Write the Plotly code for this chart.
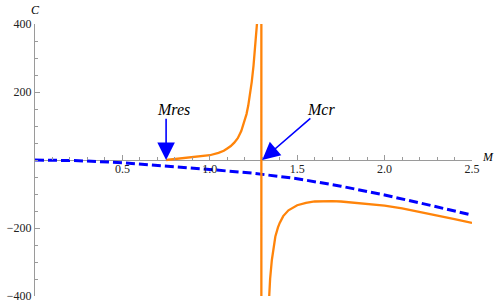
import plotly.graph_objects as go

# ---- data ----
blue_M = [0.0, 0.25, 0.5, 0.75, 1.0, 1.25, 1.5, 1.75, 2.0, 2.25, 2.5]
blue_C = [0, -2, -8, -17, -28, -39, -55, -77, -103, -132, -162]

orange_M = [0.75, 0.80, 0.85, 0.90, 0.95, 1.00, 1.05, 1.08, 1.10, 1.12, 1.14, 1.16,
            1.18, 1.20, 1.21, 1.22, 1.23, 1.24, 1.25, 1.26, 1.27, 1.28,
            1.29, 1.2945, 1.2955, 1.30, 1.32,
            1.34, 1.345, 1.355, 1.365, 1.375, 1.39, 1.40, 1.42, 1.45, 1.50, 1.55,
            1.60, 1.65, 1.70, 1.75, 1.80, 1.85, 1.92, 2.00, 2.10, 2.20, 2.30, 2.40, 2.50]
orange_C = [0, 3, 5, 8, 11, 14, 21, 27, 34, 41, 51, 64,
            85, 116, 135, 160, 192, 230, 277, 335, 402, 520,
            1500, 20000, -20000, -3000, -800,
            -400, -350, -294, -255, -225, -198, -185, -165, -148, -133, -126,
            -122, -121, -121, -122, -124, -126, -129, -134, -142, -152, -163, -174, -185]

x_tickvals = [0.5, 1.0, 1.5, 2.0, 2.5]
x_ticktext = ["0.5", "1.0", "1.5", "2.0", "2.5"]
y_tickvals = [-400, -200, 200, 400]
y_ticktext = ["\u2212400", "\u2212200", "200", "400"]

M_res = 0.75
M_cr = 1.30

FONT = "Liberation Serif, serif"
AXIS_GRAY = "#9a9a9a"
ORANGE = "rgb(255,132,10)"
BLUE = "rgb(0,0,255)"

fig = go.Figure()
fig.add_trace(go.Scatter(x=blue_M, y=blue_C, mode="lines",
                         line=dict(color=BLUE, width=3, dash="9px,4px"),
                         hoverinfo="skip", showlegend=False))
fig.add_trace(go.Scatter(x=orange_M, y=orange_C, mode="lines",
                         line=dict(color=ORANGE, width=2.3),
                         hoverinfo="skip", showlegend=False))

annotations = [
    dict(x=M_res, y=0, ax=M_res, ay=126, xref="x", yref="y", axref="x", ayref="y",
         text="", showarrow=True, arrowhead=2, arrowsize=2.2, arrowwidth=1.6,
         arrowcolor=BLUE, standoff=0),
    dict(x=M_cr, y=0, ax=1.584, ay=126, xref="x", yref="y", axref="x", ayref="y",
         text="", showarrow=True, arrowhead=2, arrowsize=2.2, arrowwidth=1.6,
         arrowcolor=BLUE, standoff=0),
    dict(x=0.79, y=150, xref="x", yref="y", text="<i>Mres</i>", showarrow=False,
         font=dict(family=FONT, size=16, color="black")),
    dict(x=1.637, y=148, xref="x", yref="y", text="<i>Mcr</i>", showarrow=False,
         font=dict(family=FONT, size=16, color="black")),
    dict(x=0, y=1.05, xref="paper", yref="paper", xanchor="center", yanchor="middle",
         text="<i>C</i>", showarrow=False,
         font=dict(family=FONT, size=12, color="black")),
    dict(x=1.037, y=9, xref="paper", yref="y", xanchor="center", yanchor="middle",
         text="<i>M</i>", showarrow=False,
         font=dict(family=FONT, size=12, color="black")),
]

fig.update_layout(
    width=498, height=305,
    margin=dict(l=35, r=26, t=24, b=9, autoexpand=False),
    paper_bgcolor="white", plot_bgcolor="white",
    font=dict(family=FONT, size=12, color="#222"),
    showlegend=False,
    annotations=annotations,
    xaxis=dict(range=[0, 2.5], anchor="free", position=0.5, automargin=False,
               showgrid=False, zeroline=False, showline=False,
               tickmode="array", tickvals=x_tickvals, ticktext=x_ticktext,
               ticks="inside", ticklen=5, tickwidth=1, tickcolor=AXIS_GRAY,
               tickfont=dict(family=FONT, size=12, color="#222"),
               minor=dict(tickmode="linear", tick0=0, dtick=0.1, ticks="inside",
                          ticklen=3, tickwidth=1, tickcolor=AXIS_GRAY),
               fixedrange=True),
    yaxis=dict(range=[-400, 400], automargin=False,
               showgrid=False, zeroline=True, zerolinecolor=AXIS_GRAY, zerolinewidth=1,
               showline=True, linecolor=AXIS_GRAY, linewidth=1,
               tickmode="array", tickvals=y_tickvals, ticktext=y_ticktext,
               ticks="inside", ticklen=5, tickwidth=1, tickcolor=AXIS_GRAY,
               tickfont=dict(family=FONT, size=12, color="#222"),
               minor=dict(tickmode="linear", tick0=0, dtick=50, ticks="inside",
                          ticklen=3, tickwidth=1, tickcolor=AXIS_GRAY),
               fixedrange=True),
)

fig.write_html("out.html", config={"displayModeBar": False},
               post_script="document.body.style.margin='0';document.body.style.overflow='hidden';")
